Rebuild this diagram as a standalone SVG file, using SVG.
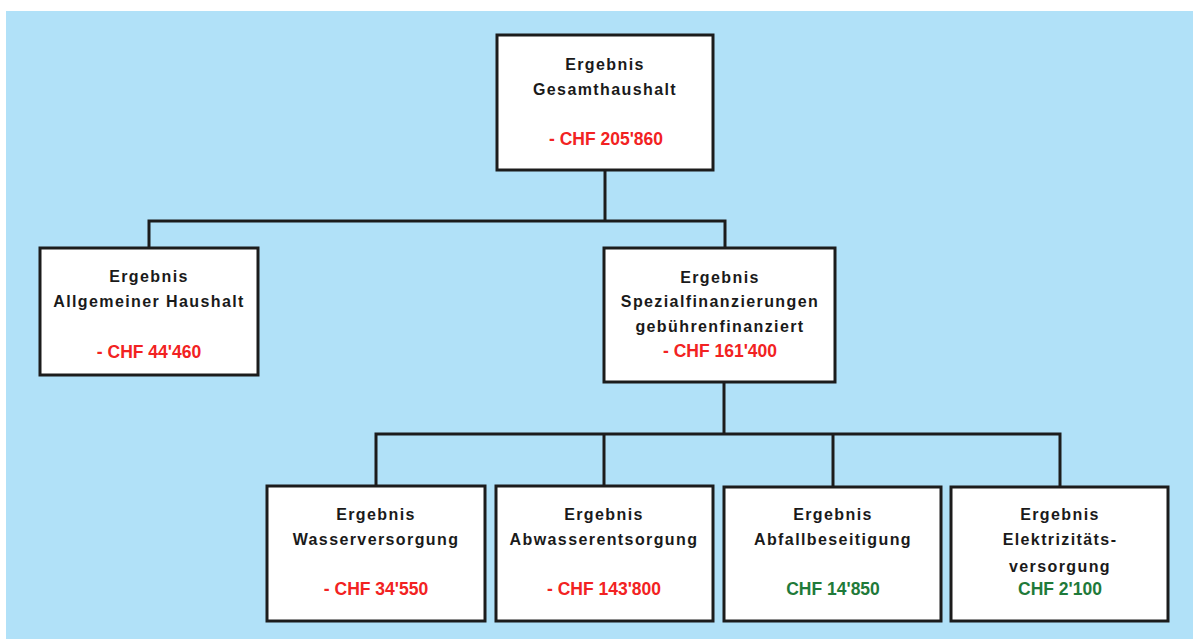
<svg xmlns="http://www.w3.org/2000/svg" width="1193" height="639" viewBox="0 0 1193 639">
<style>
.bg{fill:#b1e1f8}
.box{fill:#ffffff;stroke:#1c1c1c;stroke-width:3}
.lbl{font-family:"Liberation Sans",Arial,sans-serif;font-weight:bold;font-size:16px;letter-spacing:1.4px;fill:#1a1a1a;text-anchor:middle}
.neg{font-family:"Liberation Sans",Arial,sans-serif;font-weight:bold;font-size:17.5px;fill:#f22222;text-anchor:middle}
.pos{font-family:"Liberation Sans",Arial,sans-serif;font-weight:bold;font-size:17.5px;fill:#1f7a3a;text-anchor:middle}
.con{fill:none;stroke:#1c1c1c;stroke-width:3}
</style>
<rect x="0" y="0" width="1193" height="639" fill="#ffffff"/>
<rect class="bg" x="6" y="11" width="1187" height="628"/>
<g id="connectors">
<polyline class="con" points="605,170 605,221"/>
<polyline class="con" points="149,248 149,221 725,221 725,248"/>
<polyline class="con" points="724,382 724,434"/>
<polyline class="con" points="376,486 376,434 1060,434 1060,486"/>
<polyline class="con" points="604,434 604,486"/>
<polyline class="con" points="833,434 833,486"/>
</g>
<g id="gesamt">
<rect class="box" x="497" y="35" width="216" height="135"/>
<text class="lbl" x="605" y="70">Ergebnis</text>
<text class="lbl" x="605" y="95">Gesamthaushalt</text>
<text class="neg" x="606" y="145">- CHF 205'860</text>
</g>
<g id="allgemein">
<rect class="box" x="40" y="248" width="218" height="127"/>
<text class="lbl" x="149" y="282">Ergebnis</text>
<text class="lbl" x="149" y="307">Allgemeiner Haushalt</text>
<text class="neg" x="149" y="358">- CHF 44'460</text>
</g>
<g id="spezial">
<rect class="box" x="604" y="248" width="231" height="134"/>
<text class="lbl" x="720" y="283">Ergebnis</text>
<text class="lbl" x="720" y="307">Spezialfinanzierungen</text>
<text class="lbl" x="720" y="332">gebührenfinanziert</text>
<text class="neg" x="720" y="357">- CHF 161'400</text>
</g>
<g id="wasser">
<rect class="box" x="267" y="486" width="218" height="135"/>
<text class="lbl" x="376" y="520">Ergebnis</text>
<text class="lbl" x="376" y="545">Wasserversorgung</text>
<text class="neg" x="376" y="595">- CHF 34'550</text>
</g>
<g id="abwasser">
<rect class="box" x="496" y="486" width="217" height="135"/>
<text class="lbl" x="604" y="520">Ergebnis</text>
<text class="lbl" x="604" y="545">Abwasserentsorgung</text>
<text class="neg" x="604" y="595">- CHF 143'800</text>
</g>
<g id="abfall">
<rect class="box" x="724" y="487" width="217" height="134"/>
<text class="lbl" x="833" y="520">Ergebnis</text>
<text class="lbl" x="833" y="545">Abfallbeseitigung</text>
<text class="pos" x="833" y="595">CHF 14'850</text>
</g>
<g id="elektrizitaet">
<rect class="box" x="951" y="487" width="217" height="134"/>
<text class="lbl" x="1060" y="520">Ergebnis</text>
<text class="lbl" x="1060" y="545">Elektrizitäts-</text>
<text class="lbl" x="1060" y="572">versorgung</text>
<text class="pos" x="1060" y="595">CHF 2'100</text>
</g>
</svg>
